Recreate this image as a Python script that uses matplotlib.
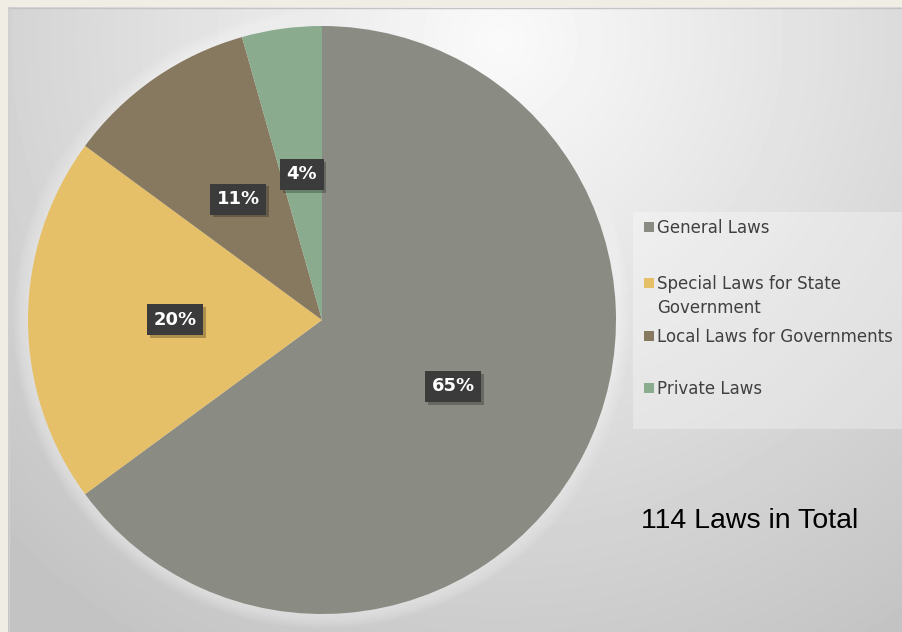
import numpy as np
import matplotlib
matplotlib.use("Agg")
import matplotlib.pyplot as plt
import matplotlib.patheffects as pe
from matplotlib.patches import Rectangle, Circle

# law counts (114 in total)
categories = ["General Laws", "Special Laws for State\nGovernment",
              "Local Laws for Governments", "Private Laws"]
counts = [74, 23, 12, 5]
colors = ["#8a8b83", "#e6c068", "#877860", "#8aab8d"]
total_label = "114 Laws in Total"

W, H = 902, 632
fig = plt.figure(figsize=(W / 100, H / 100), dpi=100)

# background: cream border + radial gray gradient
ax_bg = fig.add_axes([0, 0, 1, 1])
ax_bg.add_patch(Rectangle((0, 0), W, H, facecolor="#f0ede5", edgecolor="none", zorder=-2))

yy, xx = np.mgrid[7:H:1.0, 8:W:1.0]
d = np.sqrt((xx - 500) ** 2 + (yy - 40) ** 2) / 710
d = np.clip(d, 0, 1)
shade = (250 - 55 * d) / 255
ax_bg.imshow(shade, cmap="gray", vmin=0, vmax=1, extent=(8, W, H, 7),
             interpolation="bilinear", aspect="auto", zorder=-1)
ax_bg.plot([8, W], [7.5, 7.5], color="#c4c4c4", lw=1)
ax_bg.plot([8.5, 8.5], [7, H], color="#cfcfcf", lw=1)
ax_bg.set_xlim(0, W)
ax_bg.set_ylim(H, 0)
ax_bg.axis("off")

# pie, with a soft white glow around it
ax = fig.add_axes([28 / W, 18 / H, 588 / W, 588 / H])
for k in range(10):
    ax.add_patch(Circle((0, 0), 1 + 0.005 * (k + 1), facecolor="white",
                        edgecolor="none", alpha=0.05, clip_on=False, zorder=0))
wedges, texts, autotexts = ax.pie(
    counts, colors=colors, startangle=90, counterclock=False,
    autopct="%1.0f%%", pctdistance=0.5, radius=1,
    wedgeprops=dict(linewidth=0))
ax.set_xlim(-1, 1)
ax.set_ylim(-1, 1)
ax.axis("off")

for t in autotexts:
    t.set_color("white")
    t.set_fontsize(13)
    t.set_fontweight("bold")
    t.set_zorder(5)
    t.set_bbox(dict(boxstyle="square,pad=0.36", facecolor="#3b3b3b", edgecolor="none"))
    t.get_bbox_patch().set_path_effects(
        [pe.SimplePatchShadow(offset=(2, -2), shadow_rgbFace="black", alpha=0.25),
         pe.Normal()])

# legend panel
ax_bg.add_patch(Rectangle((633, 212), W - 633, 217, facecolor="white",
                          edgecolor="none", alpha=0.3))
legend_y = [227, 283, 336, 388]
for lab, col, y in zip(categories, colors, legend_y):
    ax_bg.add_patch(Rectangle((644, y - 5), 10, 10, facecolor=col, edgecolor="none"))
    ax_bg.text(657, y - 8, lab, fontsize=12, color="#404040", ha="left", va="top",
               linespacing=1.45)

ax_bg.text(641, 521, total_label, fontsize=20.5, family="Liberation Sans",
           color="black", ha="left", va="center")

fig.savefig("out.png", dpi=100)
